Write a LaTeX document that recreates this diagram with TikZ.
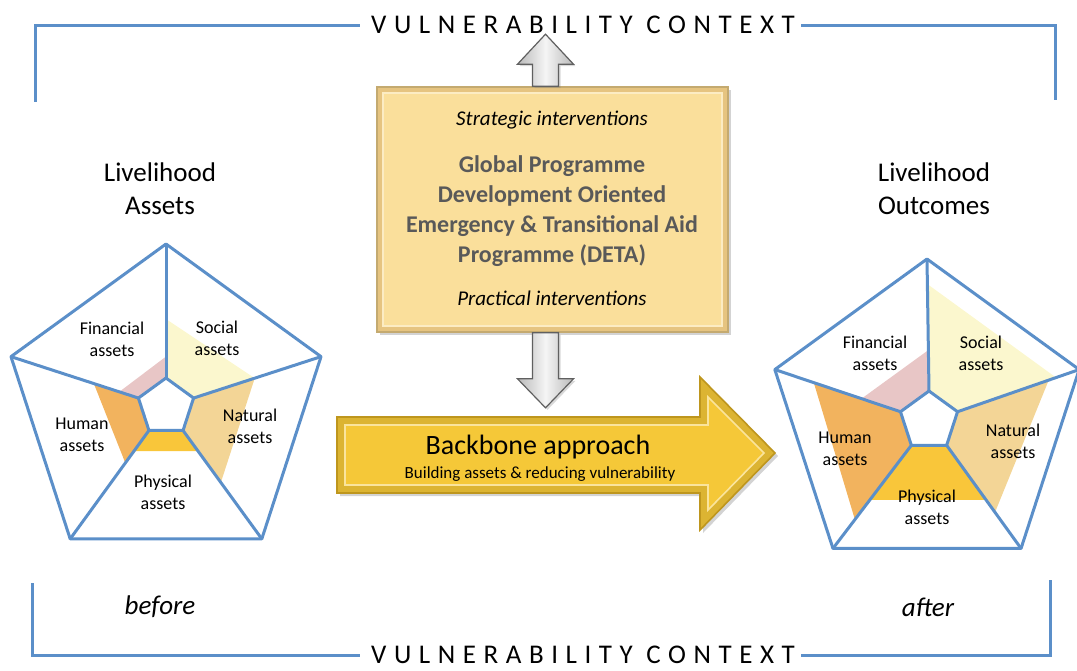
\documentclass[tikz,border=0pt]{standalone}
\usepackage{fontspec}
\setmainfont{Carlito}
\newfontfamily\ctxfont[LetterSpace=28]{Carlito}
\usepackage{xcolor}
\definecolor{pblue}{RGB}{91,143,201}
\definecolor{finpink}{RGB}{232,198,198}
\definecolor{socyellow}{RGB}{251,247,206}
\definecolor{natbeige}{RGB}{243,213,150}
\definecolor{physgold}{RGB}{249,198,58}
\definecolor{humorange}{RGB}{242,179,94}
\definecolor{boxfill}{RGB}{250,223,155}
\definecolor{boxedge}{RGB}{196,170,112}
\definecolor{arrowgold}{RGB}{245,200,56}
\definecolor{arrowedge}{RGB}{190,150,30}
\definecolor{titlegray}{RGB}{89,89,89}
\usetikzlibrary{calc}
\usetikzlibrary{shadows}

\begin{document}
\begin{tikzpicture}[x=0.5pt,y=-0.5pt]
\tikzstyle{frameline} = [
  draw = pblue,
  line width = 1.5pt
]
\tikzstyle{pentline} = [
  draw = pblue,
  line width = 1.5pt,
  line join = round
]
\tikzstyle{ctxtext} = [
  inner sep=0pt,
  font=\ctxfont\fontsize{13.5}{15}\selectfont
]
\tikzstyle{headtext} = [
  align=center,
  font=\fontsize{13.5}{16.5}\selectfont
]
\tikzstyle{assettext} = [
  align=center,
  inner sep=0pt,
  font=\fontsize{9}{11}\selectfont
]
\tikzstyle{greyarrow} = [
  draw = gray!75!black,
  line width = 0.6pt,
  left color = gray!55,
  right color = gray!55,
  middle color = gray!8,
  drop shadow = {shadow xshift=1pt, shadow yshift=-1pt, opacity=0.3}
]

\useasboundingbox (0,0) rectangle (1077,670);

% vulnerability context frame
\node[ctxtext] (topctx) at (583,25) {VULNERABILITY CONTEXT};
\node[ctxtext] (botctx) at (583,655) {VULNERABILITY CONTEXT};
\draw[frameline] ([xshift=-5.5pt]topctx.west) -| (35,102);
\draw[frameline] ([xshift=3pt]topctx.east) -| (1055,100);
\draw[frameline] ([xshift=-5.5pt]botctx.west) -| (32,583);
\draw[frameline] ([xshift=3pt]botctx.east) -| (1050,580);

% titles
\node[headtext] (assetstitle) at (160,189) {Livelihood\\Assets};
\node[headtext] (outcometitle) at (934,189) {Livelihood\\Outcomes};
\node[headtext, font=\fontsize{13.5}{16.5}\selectfont\itshape] (before) at (160,607) {before};
\node[headtext, font=\fontsize{13.5}{16.5}\selectfont\itshape] (after) at (928,607) {after};

% pentagon corners
\foreach \i/\a in {0/-90,1/-18,2/54,3/126,4/198} {
  \coordinate (LO\i) at ({166+163*cos(\a)},{407+163*sin(\a)});
  \coordinate (LI\i) at ({166+29*cos(\a)},{407+29*sin(\a)});
  \coordinate (RO\i) at ({927+160*cos(\a)},{419+160*sin(\a)});
  \coordinate (RI\i) at ({929+30*cos(\a)},{421+30*sin(\a)});
}

% asset levels
\foreach \a/\b/\fa/\fb/\c in {0/1/0.44/0.48/socyellow, 1/2/0.48/0.48/natbeige,
  2/3/0.19/0.19/physgold, 3/4/0.30/0.35/humorange, 4/0/0.15/0.16/finpink} {
  \fill[\c] (LI\a) -- (LI\b) -- ($(LI\b)!\fb!(LO\b)$) -- ($(LI\a)!\fa!(LO\a)$) -- cycle;
}
\foreach \a/\b/\fa/\fb/\c in {0/1/0.81/0.81/socyellow, 1/2/0.75/0.65/natbeige,
  2/3/0.53/0.53/physgold, 3/4/0.72/0.69/humorange, 4/0/0.31/0.31/finpink} {
  \fill[\c] (RI\a) -- (RI\b) -- ($(RI\b)!\fb!(RO\b)$) -- ($(RI\a)!\fa!(RO\a)$) -- cycle;
}

\draw[pentline] (LO0) -- (LO1) -- (LO2) -- (LO3) -- (LO4) -- cycle;
\draw[pentline] (LI0) -- (LI1) -- (LI2) -- (LI3) -- (LI4) -- cycle;
\draw[pentline] (RO0) -- (RO1) -- (RO2) -- (RO3) -- (RO4) -- cycle;
\draw[pentline] (RI0) -- (RI1) -- (RI2) -- (RI3) -- (RI4) -- cycle;
\foreach \i in {0,...,4} {
  \draw[pentline] (LI\i) -- (LO\i);
  \draw[pentline] (RI\i) -- (RO\i);
}

% asset labels
\node[assettext] (lfin) at (112,339) {Financial\\assets};
\node[assettext] (lsoc) at (217,338) {Social\\assets};
\node[assettext] (lnat) at (250,426) {Natural\\assets};
\node[assettext] (lhum) at (82,435) {Human\\assets};
\node[assettext] (lphy) at (163,492) {Physical\\assets};
\node[assettext] (rfin) at (875,353) {Financial\\assets};
\node[assettext] (rsoc) at (981,353) {Social\\assets};
\node[assettext] (rnat) at (1013,441) {Natural\\assets};
\node[assettext] (rhum) at (845,449) {Human\\assets};
\node[assettext] (rphy) at (927,507) {Physical\\assets};

% programme box
\node[draw=boxedge, line width=0.8pt, fill=boxfill!90!orange!92!black, minimum width=175.5pt,
  minimum height=122.5pt, drop shadow={shadow xshift=1.5pt, shadow yshift=-1.5pt, opacity=0.35}]
  (deta) at (552.5,209.5) {};
\draw[draw=boxfill!60!white, line width=0.8pt, fill=boxfill]
  ([shift={(7,7)}]deta.north west) rectangle ([shift={(-7,-7)}]deta.south east);
\node[font=\fontsize{10.5}{13}\selectfont\itshape] (strat) at (552,120) {Strategic interventions};
\node[align=center, text=titlegray, font=\fontsize{12}{15}\selectfont\bfseries]
  (detatitle) at (552,211) {Global Programme\\Development Oriented\\Emergency \& Transitional Aid\\Programme (DETA)};
\node[font=\fontsize{10.5}{13}\selectfont\itshape] (pract) at (552,298) {Practical interventions};

% grey arrows
\draw[greyarrow] ($(deta.north)+(-20,0)$) -- ++(0,-22) -- ++(-15,0) -- ++(28,-30)
  -- ++(28,30) -- ++(-15,0) -- ++(0,22) -- cycle;
\draw[greyarrow] ($(deta.south)+(-20,0)$) -- ++(0,46) -- ++(-15,0) -- ++(28,29)
  -- ++(28,-29) -- ++(-15,0) -- ++(0,-46) -- cycle;

% backbone arrow
\draw[draw=arrowedge, line width=0.8pt, fill=arrowgold!90!black,
  drop shadow={shadow xshift=1.5pt, shadow yshift=-1.5pt, opacity=0.35}]
  (337,417) -- (700,417) -- (700,377) -- (775,453) -- (700,530) -- (700,493) -- (337,493) -- cycle;
\draw[draw=arrowgold!50!white, line width=0.8pt, fill=arrowgold]
  (345,425) -- (708,425) -- (708,397) -- (764,453) -- (708,510) -- (708,485) -- (345,485) -- cycle;
\node[font=\fontsize{14}{16}\selectfont] (backbone) at (538,447) {Backbone approach};
\node[font=\fontsize{8.5}{10}\selectfont] (backbonesub) at (540,474) {Building assets \& reducing vulnerability};

\end{tikzpicture}
\end{document}
